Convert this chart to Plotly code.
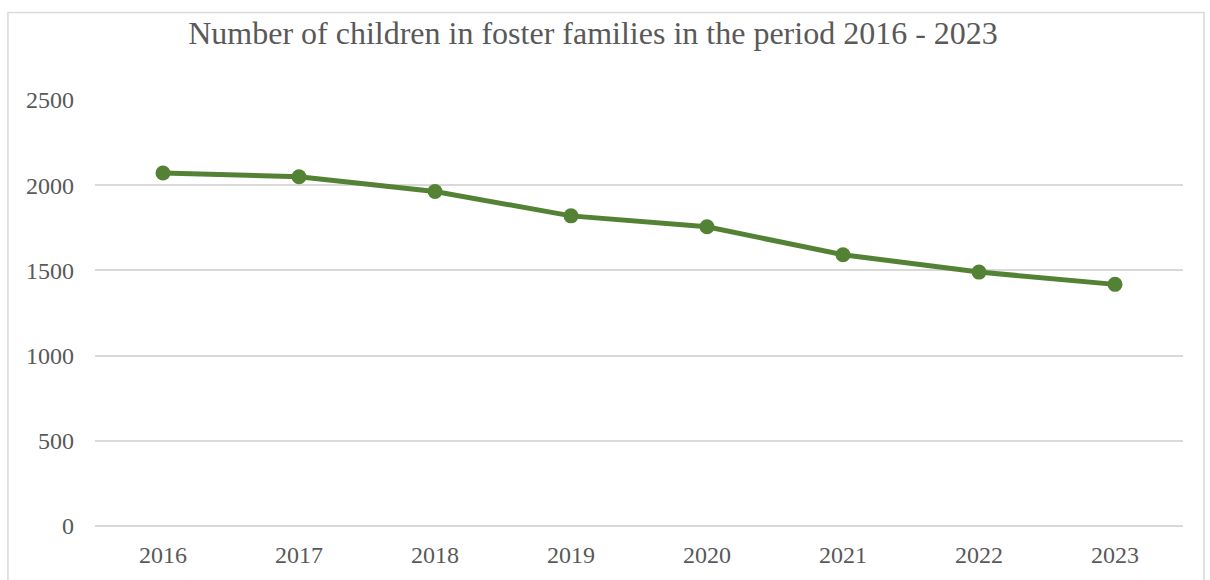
import plotly.graph_objects as go

years = ["2016", "2017", "2018", "2019", "2020", "2021", "2022", "2023"]
children = [2072, 2050, 1963, 1820, 1756, 1592, 1490, 1418]
y_ticks = [0, 500, 1000, 1500, 2000, 2500]

FONT = "Liberation Serif, Times New Roman, serif"
GREY = "#595959"

fig = go.Figure()
fig.add_trace(go.Scatter(
    x=years, y=children, mode="lines+markers",
    line=dict(color="#548235", width=5),
    marker=dict(color="#548235", size=15),
    showlegend=False, hoverinfo="x+y",
))

fig.update_layout(
    width=1210, height=580,
    margin=dict(l=95, r=27, t=99.5, b=49.5),
    paper_bgcolor="white", plot_bgcolor="white",
    title=dict(text="Number of children in foster families in the period 2016 - 2023",
               x=593/1210, xanchor="center", xref="container",
               y=1 - 33/580, yanchor="middle", yref="container",
               font=dict(family=FONT, size=32, color=GREY)),
    xaxis=dict(type="category", range=[-0.5, 7.5], showgrid=False, showline=False,
               zeroline=False, ticks="", ticklabelstandoff=12,
               tickfont=dict(family=FONT, size=24, color=GREY)),
    yaxis=dict(range=[0, 2500], tickvals=y_ticks, showgrid=True, gridcolor="#d9d9d9",
               gridwidth=1.5, zeroline=True, zerolinecolor="#d9d9d9", zerolinewidth=1.5,
               showline=False, ticks="",
               ticklabelstandoff=20,
               tickfont=dict(family=FONT, size=24, color=GREY)),
    shapes=[dict(type="rect", xref="paper", yref="paper",
                 x0=-0.08, x1=1.0193, y0=-0.141, y1=1.2054,
                 line=dict(color="#d9d9d9", width=1.5), fillcolor="rgba(0,0,0,0)", layer="below")],
)

fig.write_html("out.html")
